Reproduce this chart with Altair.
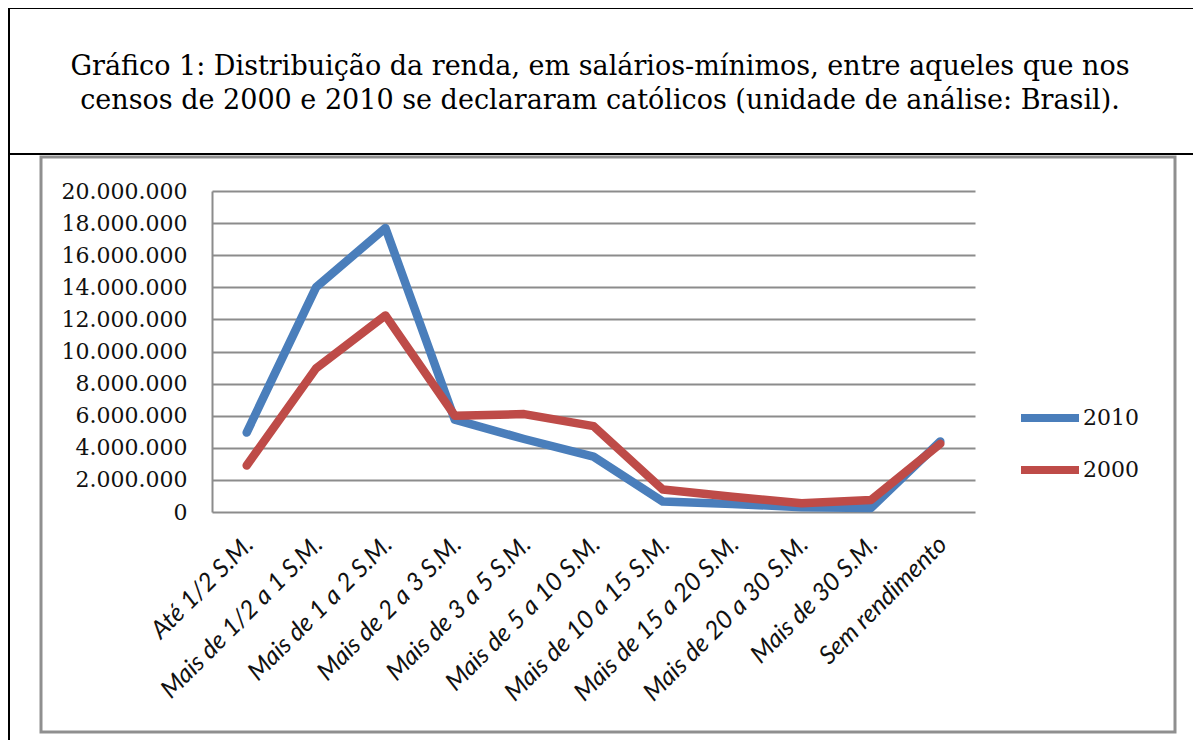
import altair as alt
import pandas as pd

categories = ["Até 1/2 S.M.", "Mais de 1/2 a 1 S.M.", "Mais de 1 a 2 S.M.", "Mais de 2 a 3 S.M.",
              "Mais de 3 a 5 S.M.", "Mais de 5 a 10 S.M.", "Mais de 10 a 15 S.M.", "Mais de 15 a 20 S.M.",
              "Mais de 20 a 30 S.M.", "Mais de 30 S.M.", "Sem rendimento"]
v2010 = [4950000, 14000000, 17700000, 5750000, 4550000, 3450000, 650000, 500000, 300000, 250000, 4400000]
v2000 = [2900000, 8950000, 12250000, 6000000, 6100000, 5350000, 1400000, 950000, 550000, 750000, 4250000]
series = ["2010", "2000"]
title_lines = ["Gráfico 1: Distribuição da renda, em salários-mínimos, entre aqueles que nos",
               "censos de 2000 e 2010 se declararam católicos (unidade de análise: Brasil)."]
y_ticks = [0, 2000000, 4000000, 6000000, 8000000, 10000000, 12000000, 14000000, 16000000, 18000000, 20000000]

rows = []
for c, a, b in zip(categories, v2010, v2000):
    rows.append({"cat": c, "serie": "2010", "valor": a})
    rows.append({"cat": c, "serie": "2000", "valor": b})
df = pd.DataFrame(rows)

BLUE = "#4a7ebb"
RED = "#be4b48"
GRID = "#8c8c8c"

x_enc = alt.X("cat:N", sort=categories, scale=alt.Scale(type="point", padding=0.5),
              axis=alt.Axis(title=None, labelAngle=-45, labelAlign="right", labelBaseline="middle",
                            labelFont="Lato", labelFontStyle="italic", labelFontSize=25,
                            labelColor="#111", labelPadding=28, labelOffset=2, labelLimit=0,
                            domain=False, ticks=False, grid=False, labelOverlap=False))
y_enc = alt.Y("valor:Q", scale=alt.Scale(domain=[0, 20000000], nice=False),
              axis=alt.Axis(title=None, values=y_ticks,
                            labelExpr="replace(replace(format(datum.value, ',d'), ',', '.'), ',', '.')",
                            labelFont="DejaVu Serif", labelFontSize=22, labelColor="#111",
                            labelPadding=25, ticks=False, domain=True, domainColor=GRID,
                            domainWidth=2, grid=True, gridColor=GRID, gridWidth=2))
color_enc = alt.Color("serie:N", scale=alt.Scale(domain=series, range=[BLUE, RED]),
                      legend=alt.Legend(title=None, orient="none", legendX=805, legendY=194,
                                        symbolType="stroke", symbolSize=3364, symbolStrokeWidth=8,
                                        labelFont="DejaVu Serif", labelFontSize=22, labelColor="#111",
                                        labelOffset=0, rowPadding=3, padding=0))

base = alt.Chart(df)
line2010 = base.transform_filter(alt.datum.serie == "2010").mark_line(
    strokeWidth=8.5, strokeCap="round", strokeJoin="round").encode(x=x_enc, y=y_enc, color=color_enc)
line2000 = base.transform_filter(alt.datum.serie == "2000").mark_line(
    strokeWidth=8.5, strokeCap="round", strokeJoin="round").encode(x=x_enc, y=y_enc, color=color_enc)

one = alt.Data(values=[{}])
outer_left = alt.Chart(one).mark_rule(color="black", strokeWidth=2).encode(
    x=alt.value(-203), y=alt.value(-183), y2=alt.value(560))
outer_top = alt.Chart(one).mark_rule(color="black", strokeWidth=2).encode(
    x=alt.value(-203), x2=alt.value(995), y=alt.value(-183))
title_sep = alt.Chart(one).mark_rule(color="black", strokeWidth=2).encode(
    x=alt.value(-203), x2=alt.value(995), y=alt.value(-37))
gray_box = alt.Chart(one).mark_rect(fillOpacity=0, stroke="#8f8f8f", strokeWidth=3).encode(
    x=alt.value(-171), x2=alt.value(963), y=alt.value(-34), y2=alt.value(541))
t1 = alt.Chart(one).mark_text(font="DejaVu Serif", fontSize=27, color="black", align="center",
                              baseline="alphabetic").encode(
    x=alt.value(388), y=alt.value(-116), text=alt.value(title_lines[0]))
t2 = alt.Chart(one).mark_text(font="DejaVu Serif", fontSize=27, color="black", align="center",
                              baseline="alphabetic").encode(
    x=alt.value(388), y=alt.value(-82), text=alt.value(title_lines[1]))

chart = alt.layer(gray_box, outer_left, outer_top, title_sep, t1, t2, line2010, line2000).properties(
    width=763, height=321,
    padding={"left": 204, "top": 183, "right": 218, "bottom": 228},
    autosize=alt.AutoSizeParams(type="none"),
).configure_view(stroke=None)

chart.save("out.html", embed_options={"renderer": "svg", "actions": False})
